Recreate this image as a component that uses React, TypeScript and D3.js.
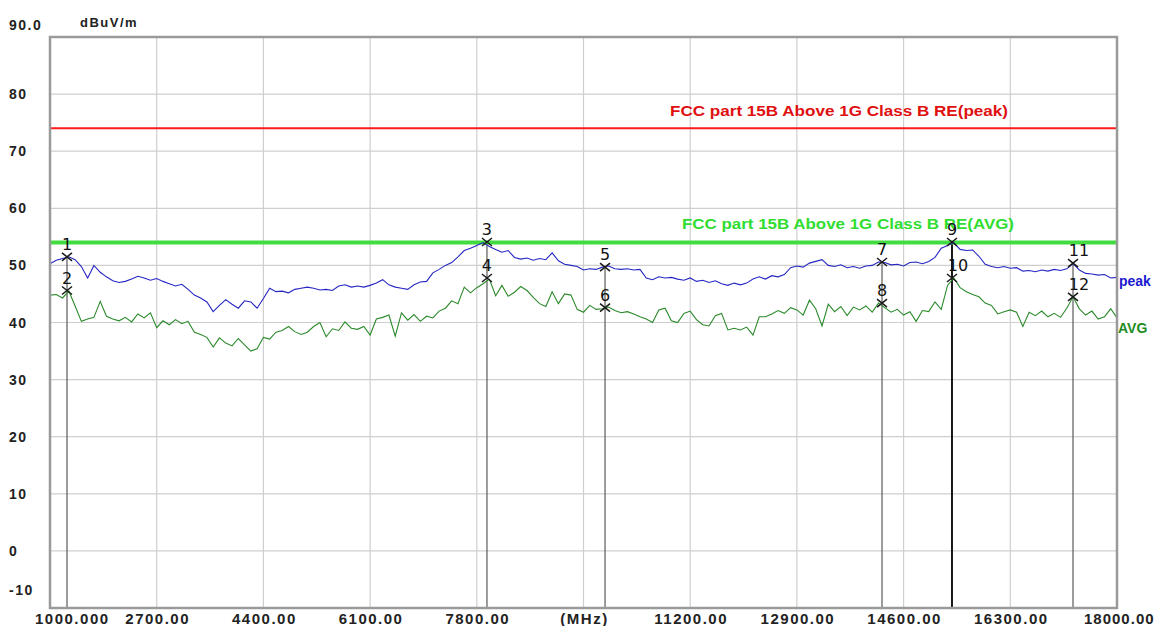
import React from 'react';
import * as d3 from 'd3';

// sweep sampling (MHz)
const FREQ_START = 1000;
const FREQ_STEP = 100;

// peak detector trace, dBuV/m
const peakLevels = [
  50.3, 50.9, 51.2, 51.5, 51.0, 49.8, 47.8, 50.0, 48.8, 48.0,
  47.3, 47.0, 47.2, 47.6, 48.1, 47.8, 47.4, 47.7, 47.2, 46.8,
  46.4, 46.7, 45.8, 44.8, 44.3, 43.6, 41.9, 43.0, 44.0, 43.2,
  42.5, 43.8, 43.6, 42.5, 44.2, 46.0, 45.4, 45.5, 45.2, 45.8,
  46.0, 46.2, 46.0, 45.7, 45.8, 45.6, 46.4, 46.6, 46.2, 46.4,
  46.2, 46.5, 46.9, 47.5, 46.6, 46.2, 46.0, 45.8, 46.6, 47.1,
  47.2, 48.7, 49.3, 50.0, 50.5, 51.5, 52.6, 53.0, 53.5, 54.0,
  53.3, 52.8, 52.3, 52.6, 51.4, 51.1, 51.3, 50.9, 51.2, 51.0,
  52.2, 50.8, 50.2, 50.0, 49.8, 49.2, 49.4, 49.3, 49.7, 49.9,
  49.4, 49.3, 49.4, 49.2, 49.3, 47.8, 47.5, 48.0, 47.8, 47.9,
  47.6, 47.4, 47.8, 47.2, 47.4, 47.0, 47.3, 46.8, 46.5, 46.9,
  46.6, 46.9, 47.6, 48.0, 47.6, 48.2, 48.0, 48.4, 49.6, 49.9,
  49.7, 50.4, 50.7, 51.0, 50.0, 49.8, 50.1, 49.6, 49.8, 49.5,
  49.9, 50.0, 50.6, 50.5, 50.1, 50.2, 49.9, 50.5, 50.6, 50.3,
  50.7, 51.4, 53.0, 53.5, 54.0, 52.8, 52.6, 52.7, 51.6, 50.2,
  49.8, 49.6, 49.8, 49.5, 49.6, 49.0, 49.1, 48.9, 49.2, 49.0,
  49.3, 49.1, 49.4, 50.3, 49.2, 48.6, 48.5, 48.3, 48.4, 47.8,
  47.9,
];

// average detector trace, dBuV/m
const avgLevels = [
  44.8, 44.9, 44.3, 45.5, 42.9, 40.2, 40.6, 40.9, 43.7, 41.1,
  40.6, 40.3, 40.9, 40.1, 41.5, 40.8, 41.7, 39.1, 40.3, 39.6,
  40.5, 39.8, 40.2, 38.3, 37.9, 37.4, 35.7, 37.3, 36.4, 35.9,
  37.2, 36.1, 35.0, 35.4, 37.4, 37.1, 38.3, 38.6, 39.3, 38.4,
  37.9, 38.3, 39.3, 40.0, 37.5, 38.9, 38.6, 40.1, 39.0, 38.8,
  39.3, 37.8, 40.6, 40.9, 41.3, 37.6, 41.7, 40.4, 41.4, 40.2,
  41.1, 40.8, 42.0, 42.5, 43.8, 43.3, 46.2, 45.2, 46.1, 46.8,
  47.6, 44.7, 46.5, 44.6, 45.3, 46.3, 45.6, 44.4, 43.3, 42.8,
  45.4, 43.3, 45.0, 44.8, 42.3, 41.8, 43.0, 42.3, 42.4, 42.7,
  42.1, 41.7, 41.9, 41.5, 41.0, 40.6, 40.0, 42.2, 42.5, 40.3,
  40.0, 41.6, 42.0, 40.5, 39.6, 39.4, 41.2, 41.6, 38.7, 39.0,
  38.7, 39.2, 37.8, 41.0, 41.0, 41.5, 42.1, 41.6, 42.6, 42.2,
  41.3, 43.9, 42.4, 39.4, 43.2, 41.9, 42.8, 41.2, 42.7, 42.2,
  42.9, 41.8, 43.4, 42.6, 41.8, 42.3, 41.3, 41.9, 40.2, 42.1,
  41.9, 43.6, 42.3, 46.5, 47.8, 46.1, 45.4, 44.9, 44.5, 43.4,
  43.0, 41.5, 41.9, 42.2, 41.8, 39.3, 41.8, 41.2, 42.0, 41.0,
  41.6, 40.9, 42.5, 44.5, 42.4, 41.3, 42.0, 40.6, 41.0, 42.4,
  40.8,
];

const xTicks = [1000, 2700, 4400, 6100, 7800, 9500, 11200, 12900, 14600, 16300, 18000];
const xTickLabels = ['1000.000', '2700.00', '4400.00', '6100.00', '7800.00', '(MHz)', '11200.00', '12900.00', '14600.00', '16300.00', '18000.00'];
const yTicks = [90, 80, 70, 60, 50, 40, 30, 20, 10, 0, -10];
const yTickLabels = ['90.0', '80', '70', '60', '50', '40', '30', '20', '10', '0', '-10'];

const limitNames = ['FCC part 15B Above 1G Class B RE(peak)', 'FCC part 15B Above 1G Class B RE(AVG)'];
const limitLevels = [74, 54];

const markerIds = ['1', '2', '3', '4', '5', '6', '7', '8', '9', '10', '11', '12'];
const markerFreqs = [1271, 1271, 7962, 7962, 9843, 9843, 14256, 14256, 15371, 15371, 17299, 17299];
const markerLevels = [51.5, 45.6, 54.1, 47.8, 49.7, 42.6, 50.6, 43.4, 54.1, 47.8, 50.4, 44.5];

const W = 1159;
const H = 626;
const FONT = "'Liberation Sans', Arial, sans-serif";

export default function App() {
  const x = d3.scaleLinear().domain([1000, 18000]).range([50, 1117]);
  const y = d3.scaleLinear().domain([-10, 90]).range([608, 37]);

  const freqs = peakLevels.map((_, i) => FREQ_START + i * FREQ_STEP);
  const line = d3.line<number>()
    .x((_, i) => x(freqs[i]))
    .y(d => y(d));

  const limitColors = ['#ff1a1a', '#40dc40'];
  const limitTextColors = ['#e01010', '#30dd30'];
  const limitWidths = [2, 4];
  const limitTextX = [670, 682];
  const limitTextLen = [338, 332];

  return (
    <svg width={W} height={H} style={{ position: 'absolute', left: 0, top: 0, background: '#fff' }}
      fontFamily={FONT}>
      <rect x={0} y={0} width={W} height={H} fill="#fff" />

      {/* grid */}
      <g stroke="#cfcfcf" strokeWidth={1.2}>
        {xTicks.slice(1, -1).map(t => (
          <line key={'gx' + t} x1={x(t)} x2={x(t)} y1={y(90)} y2={y(-10)} />
        ))}
        {yTicks.slice(1, -1).map(t => (
          <line key={'gy' + t} x1={x(1000)} x2={x(18000)} y1={y(t)} y2={y(t)} />
        ))}
      </g>

      {/* marker drop lines */}
      {markerIds.map((id, i) => i % 2 === 0 ? (
        <line key={'ml' + id} x1={x(markerFreqs[i])} x2={x(markerFreqs[i])}
          y1={y(markerLevels[i])} y2={y(-10)}
          stroke={id === '9' ? '#000' : '#5a5a5a'} strokeWidth={id === '9' ? 1.8 : 1.2} />
      ) : null)}

      {/* limit lines */}
      {limitLevels.map((lv, i) => (
        <g key={'lim' + i}>
          <line x1={x(1000)} x2={x(18000)} y1={y(lv)} y2={y(lv)}
            stroke={limitColors[i]} strokeWidth={limitWidths[i]} />
          <text x={limitTextX[i]} y={y(lv) - (i === 0 ? 12 : 14)} fontSize={14} fontWeight="bold"
            fill={limitTextColors[i]} textLength={limitTextLen[i]} lengthAdjust="spacingAndGlyphs">
            {limitNames[i]}
          </text>
        </g>
      ))}

      {/* traces */}
      <path d={line(avgLevels) || ''} fill="none" stroke="#2b8a2b" strokeWidth={1.1} />
      <path d={line(peakLevels) || ''} fill="none" stroke="#2626c4" strokeWidth={1.1} />

      {/* markers */}
      {markerIds.map((id, i) => {
        const mx = x(markerFreqs[i]);
        const my = y(markerLevels[i]);
        const two = id.length > 1;
        return (
          <g key={'mk' + id}>
            <path d={`M${mx - 5},${my - 4}L${mx + 5},${my + 4}M${mx - 5},${my + 4}L${mx + 5},${my - 4}`}
              stroke="#1a1a1a" strokeWidth={1.5} fill="none" />
            <text x={two ? mx + 6 : mx} y={my - 7} textAnchor="middle" fontSize={16}
              fontFamily="'DejaVu Sans', sans-serif" fill="#111">{id}</text>
          </g>
        );
      })}

      {/* plot frame */}
      <rect x={x(1000)} y={y(90)} width={x(18000) - x(1000)} height={y(-10) - y(90)}
        fill="none" stroke="#9a9a9a" strokeWidth={2.5} />

      {/* trace names */}
      <text x={1119} y={286} fontSize={14} fontWeight="bold" fill="#1a1ad0">peak</text>
      <text x={1118} y={333} fontSize={14} fontWeight="bold" fill="#1e8c1e">AVG</text>

      {/* y axis */}
      <text x={80} y={27} fontSize={13} fontWeight="bold" letterSpacing={1.5} fill="#222">dBuV/m</text>
      {yTicks.map((t, i) => {
        let ty = y(t) + 5;
        if (i === 0) ty = 30;
        if (i === yTicks.length - 1) ty = 595;
        return (
          <text key={'yl' + t} x={9} y={ty} fontSize={14} fontWeight="bold" letterSpacing={1.5} fill="#222">
            {yTickLabels[i]}
          </text>
        );
      })}

      {/* x axis */}
      {xTicks.map((t, i) => {
        const first = i === 0;
        const last = i === xTicks.length - 1;
        return (
          <text key={'xl' + t} x={first ? 35 : last ? 1084 : x(t) + 1}
            y={624} fontSize={15} fontWeight="bold" letterSpacing={last ? 1 : 1.5} fill="#222"
            textAnchor={first || last ? 'start' : 'middle'}>
            {xTickLabels[i]}
          </text>
        );
      })}
    </svg>
  );
}
